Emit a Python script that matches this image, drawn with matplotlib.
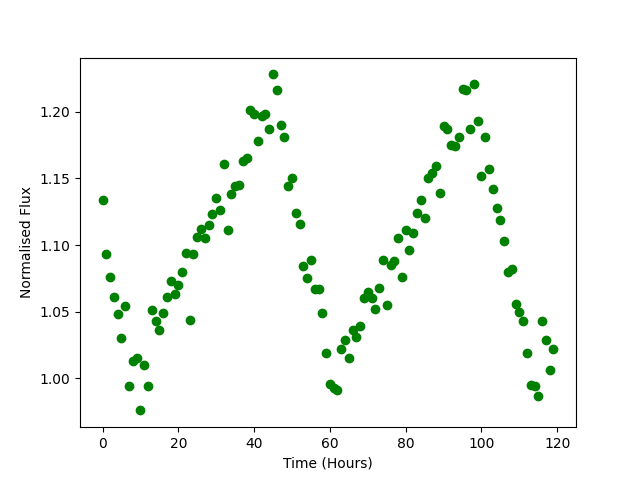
import matplotlib
matplotlib.use("Agg")
import matplotlib.pyplot as plt
import numpy as np

hours = list(range(120))
flux = [
    1.134, 1.093, 1.076, 1.061, 1.048, 1.030, 1.054, 0.994, 1.013, 1.015,
    0.976, 1.010, 0.994, 1.051, 1.043, 1.036, 1.049, 1.061, 1.073, 1.063,
    1.070, 1.080, 1.094, 1.044, 1.093, 1.106, 1.112, 1.105, 1.115, 1.123,
    1.135, 1.126, 1.161, 1.111, 1.138, 1.144, 1.145, 1.163, 1.165, 1.201,
    1.198, 1.178, 1.197, 1.198, 1.187, 1.228, 1.216, 1.190, 1.181, 1.144,
    1.150, 1.124, 1.116, 1.084, 1.075, 1.089, 1.067, 1.067, 1.049, 1.019,
    0.996, 0.993, 0.991, 1.022, 1.029, 1.015, 1.036, 1.031, 1.039, 1.060,
    1.065, 1.060, 1.052, 1.068, 1.089, 1.055, 1.085, 1.088, 1.105, 1.076,
    1.111, 1.096, 1.109, 1.124, 1.134, 1.120, 1.150, 1.154, 1.159, 1.139,
    1.189, 1.187, 1.175, 1.174, 1.181, 1.217, 1.216, 1.187, 1.221, 1.193,
    1.152, 1.181, 1.157, 1.142, 1.128, 1.119, 1.103, 1.080, 1.082, 1.056,
    1.050, 1.043, 1.019, 0.995, 0.994, 0.987, 1.043, 1.029, 1.006, 1.022,
]

fig, ax = plt.subplots(figsize=(6.4, 4.8), dpi=100)
ax.plot(hours, flux, 'go')
ax.set_xlabel("Time (Hours)")
ax.set_ylabel("Normalised Flux")
fig.savefig("out.png", dpi=100)
